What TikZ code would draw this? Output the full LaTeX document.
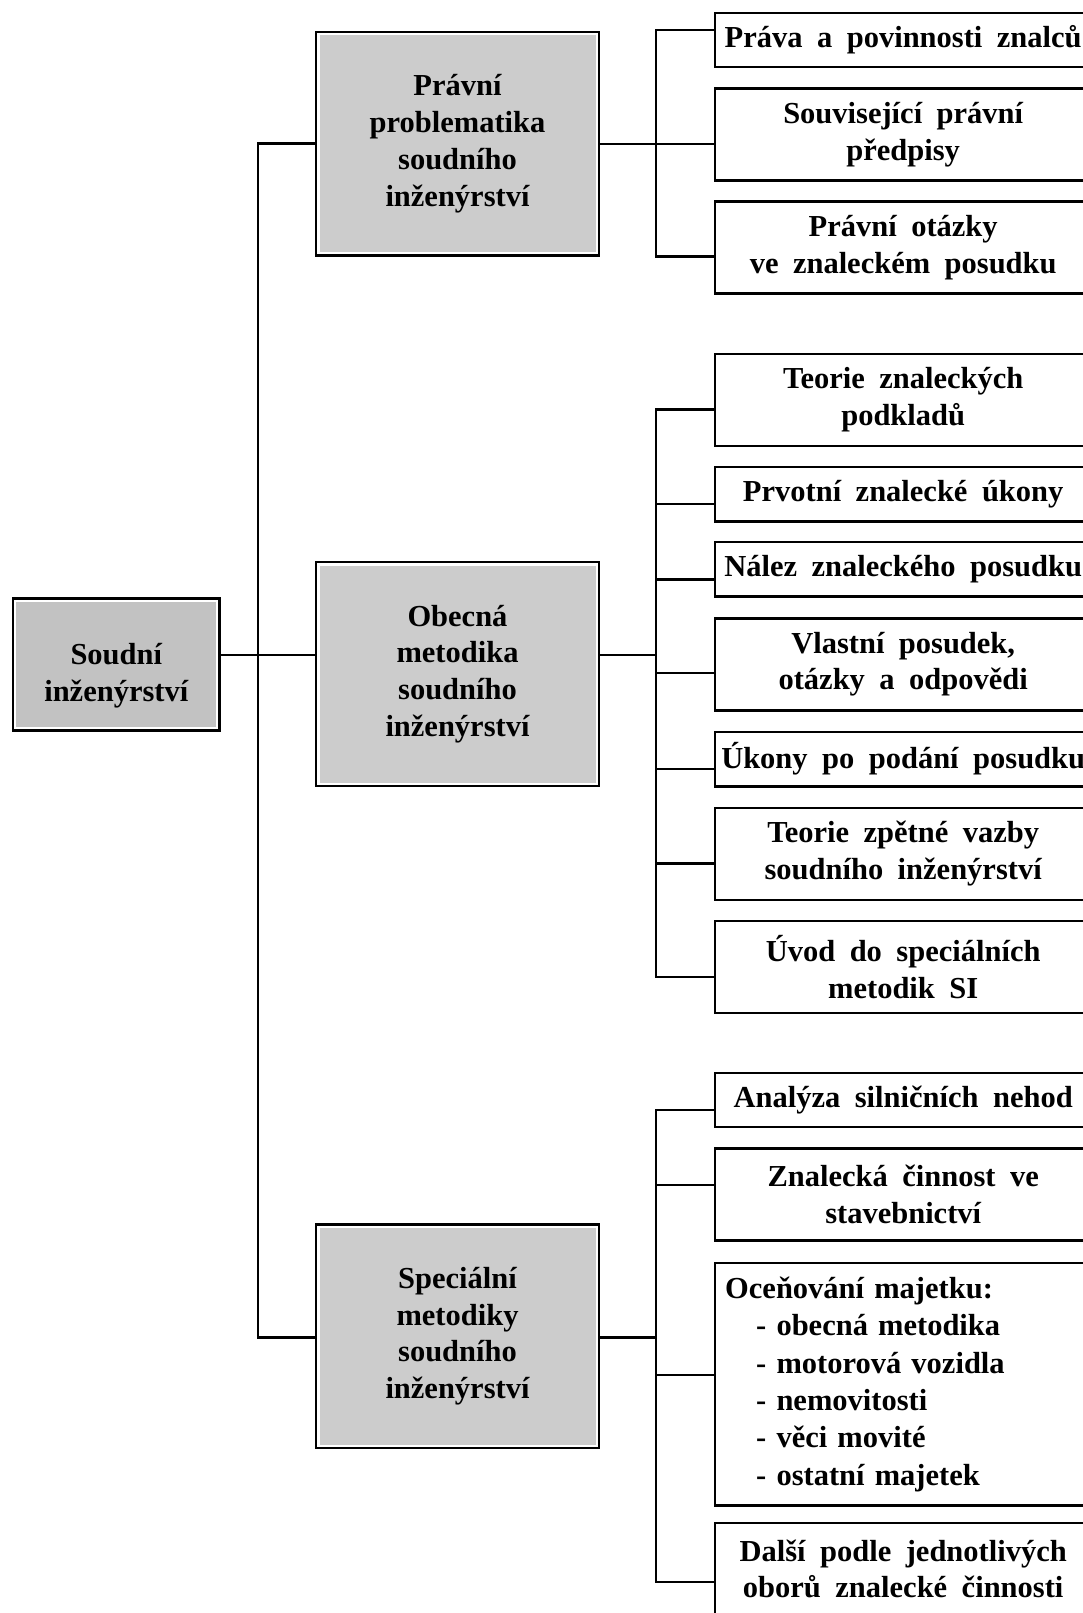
\documentclass[tikz,border=0pt]{standalone}
\usepackage{fontspec}
\setmainfont{Liberation Serif}[WordSpace=1.9]
\definecolor{boxgray}{RGB}{204,204,204}
\definecolor{rootgray}{RGB}{194,194,194}
\begin{document}
\begin{tikzpicture}[x=1pt,y=-1pt,
  every node/.style={font=\fontsize{30.5}{36.7}\selectfont\bfseries},
  conn/.style={line width=2.4pt},
  rbox/.style={draw, line width=2.4pt, minimum width=376pt, anchor=west, align=center, inner sep=2pt},
  one/.style={rbox, minimum height=54.3pt},
  two/.style={rbox, minimum height=92pt},
  gbox/.style={draw, line width=2.4pt, fill=white, align=center, inner sep=2pt,
    minimum width=282.6pt, minimum height=223.6pt,
    path picture={\fill[#1] ([shift={(3.3pt,3.3pt)}]path picture bounding box.south west) rectangle ([shift={(-3.3pt,-3.3pt)}]path picture bounding box.north east);}},
  gbox/.default=boxgray
]
\useasboundingbox (0,0) rectangle (1083,1613);
\fill[white] (0,0) rectangle (1083,1613);
\clip (0,0) rectangle (1083,1613);

% root
\node[gbox=rootgray, minimum width=206.7pt, minimum height=132pt] (s) at (116.3,664.5)
  {\raisebox{-11pt}[\height][\depth]{\begin{tabular}{@{}c@{}}Soudní\\inženýrství\end{tabular}}};

% second level
\node[gbox] (g1) at (457.5,143.7) {Právní\\problematika\\soudního\\inženýrství};
\node[gbox] (g2) at (457.5,674) {Obecná\\metodika\\soudního\\inženýrství};
\node[gbox] (g3) at (457.5,1336.3) {Speciální\\metodiky\\soudního\\inženýrství};

% third level, group 1
\node[one] (r1) at (714,40) {Práva a povinnosti znalců};
\node[two] (r2) at (714,134.5) {Související právní\\předpisy};
\node[two] (r3) at (714,247.5) {Právní otázky\\ve znaleckém posudku};

% group 2
\node[two] (r4) at (714,399.7) {Teorie znaleckých\\podkladů};
\node[one] (r5) at (714,494.3) {Prvotní znalecké úkony};
\node[one] (r6) at (714,569.3) {Nález znaleckého posudku};
\node[two] (r7) at (714,664.3) {Vlastní posudek,\\otázky a odpovědi};
\node[one] (r8) at (714,759.2) {Úkony po podání posudku};
\node[two] (r9) at (714,853.8) {Teorie zpětné vazby\\soudního inženýrství};
\node[two] (r10) at (714,967.2) {Úvod do speciálních\\metodik SI};

% group 3
\node[one] (r11) at (714,1100) {Analýza silničních nehod};
\node[two] (r12) at (714,1194.5) {Znalecká činnost ve\\stavebnictví};
\node[rbox, minimum height=242.6pt, text width=356pt, inner xsep=10pt, align=left,
  font=\fontsize{30.5}{37.4}\selectfont\bfseries] (r13) at (714,1384.2)
  {Oceňování majetku:\\
   \hspace*{31pt}- obecná metodika\\
   \hspace*{31pt}- motorová vozidla\\
   \hspace*{31pt}- nemovitosti\\
   \hspace*{31pt}- věci movité\\
   \hspace*{31pt}- ostatní majetek};
\node[two] (r14) at (714,1569) {Další podle jednotlivých\\oborů znalecké činnosti};

% left trunk
\coordinate (L1) at (258,143.7);
\coordinate (L2) at (258,655);
\coordinate (L3) at (258,1337.3);
\draw[conn] (g1.west |- L1) -- (L1) -- (L3) -- (g3.west |- L3);
\draw[conn] (s.east |- L2) -- (g2.west |- L2);

% right trunk, group 1
\coordinate (a1) at (656,30);
\coordinate (a2) at (656,144);
\coordinate (a3) at (656,256.7);
\draw[conn] (r1.west |- a1) -- (a1) -- (a3) -- (r3.west |- a3);
\draw[conn] (g1.east |- a2) -- (r2.west |- a2);

% right trunk, group 2
\coordinate (b0) at (656,655);
\coordinate (b4) at (656,409.3);
\coordinate (b5) at (656,504);
\coordinate (b6) at (656,579.3);
\coordinate (b7) at (656,672.7);
\coordinate (b8) at (656,769);
\coordinate (b9) at (656,863.3);
\coordinate (b10) at (656,976.7);
\draw[conn] (r4.west |- b4) -- (b4) -- (b10) -- (r10.west |- b10);
\draw[conn] (g2.east |- b0) -- (b0);
\draw[conn] (b5) -- (r5.west |- b5);
\draw[conn] (b6) -- (r6.west |- b6);
\draw[conn] (b7) -- (r7.west |- b7);
\draw[conn] (b8) -- (r8.west |- b8);
\draw[conn] (b9) -- (r9.west |- b9);

% right trunk, group 3
\coordinate (c0) at (656,1337.3);
\coordinate (c11) at (656,1110);
\coordinate (c12) at (656,1185);
\coordinate (c13) at (656,1375);
\coordinate (c14) at (656,1581.7);
\draw[conn] (r11.west |- c11) -- (c11) -- (c14) -- (r14.west |- c14);
\draw[conn] (g3.east |- c0) -- (c0);
\draw[conn] (c12) -- (r12.west |- c12);
\draw[conn] (c13) -- (r13.west |- c13);
\end{tikzpicture}
\end{document}
